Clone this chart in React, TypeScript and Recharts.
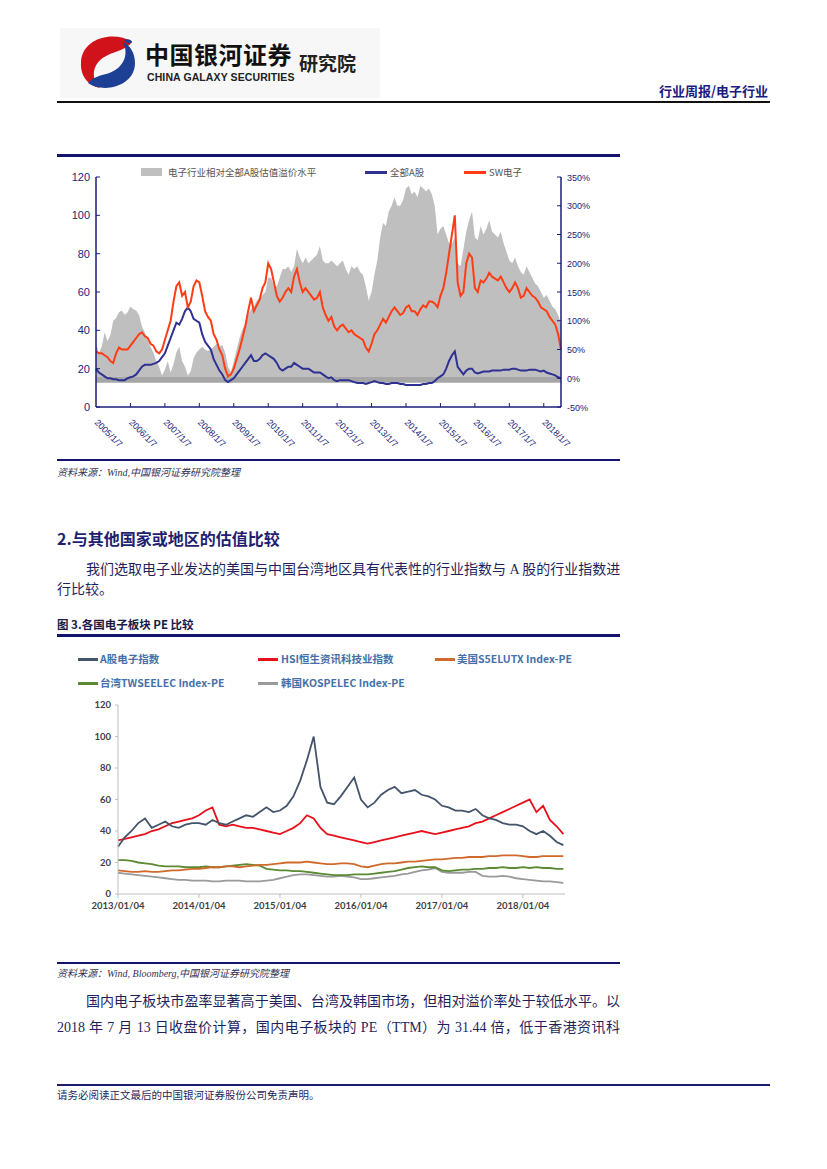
import React from "react";
import { ComposedChart, LineChart, Line, Area, XAxis, YAxis, ReferenceArea } from "recharts";

// 图2: 月度数据 2005/01 - 2018/07
const swDianzi = [
  29, 28, 28, 27, 26, 24, 23, 28, 31, 30, 30, 30,
  32, 34, 36, 38, 39, 37, 36, 33, 32, 29, 28, 30,
  35, 40, 45, 55, 63, 65, 58, 60, 52, 55, 63, 66,
  65, 58, 50, 47, 45, 38, 35, 30, 27, 20, 16, 17,
  20, 25, 30, 36, 42, 50, 57, 50, 53, 56, 62, 65,
  75, 72, 65, 58, 55, 57, 60, 62, 60, 68, 72, 65,
  60, 62, 60, 58, 56, 57, 60, 52, 48, 45, 47, 42,
  40, 42, 43, 41, 39, 40, 38, 37, 36, 35, 31, 29,
  33, 38, 40, 43, 46, 44, 47, 50, 52, 50, 48, 49,
  52, 53, 50, 50, 48, 51, 53, 52, 55, 55, 54, 52,
  58, 62, 70, 80, 90, 100, 65, 58, 60, 75, 80, 78,
  62, 60, 66, 65, 67, 70, 68, 67, 66, 68, 65, 62,
  60, 62, 65, 62, 57, 58, 62, 60, 58, 57, 55, 52,
  51, 50, 47, 45, 43, 38, 30,
];
const quanbuA = [
  20, 18, 17, 16, 15, 15, 14.5, 14.5, 14, 14, 14, 15,
  15.5, 16, 17, 19, 21, 22, 22, 22, 22.5, 23, 24, 26,
  28, 32, 36, 40, 44, 43, 46, 50, 52, 50, 46, 45,
  44, 38, 34, 32, 30, 25, 22, 19, 17, 14, 13, 14,
  15, 17, 19, 21, 23, 25, 27, 24, 24, 25, 27, 28,
  27, 26, 25, 23, 20, 19, 20, 21, 21, 23, 22, 21,
  20, 20, 20, 19, 18, 18, 18, 17, 16, 15, 15.5, 14,
  13.5, 14, 14, 14, 14, 13.5, 13, 12.5, 12.5, 12.5, 12, 12.5,
  13, 13.5, 13, 12.5, 12.5, 12, 12, 12.5, 12.5, 12.5, 12, 12,
  11.5, 11.5, 11.5, 11.5, 11.5, 11.5, 12, 12, 12.5, 12.5, 13.5, 15,
  16, 17, 20, 24, 27, 29, 21, 19, 17, 19, 20, 20,
  18, 17.5, 18, 18.5, 18.5, 18.5, 19, 19, 19, 19, 19.5, 19.5,
  19.5, 20, 20, 19.5, 19, 19, 19, 19.5, 19.5, 19.5, 19, 18.5,
  19, 18, 17.5, 17, 16.5, 15.5, 15,
];
// 溢价水平 (%)
const premium = [
  60, 45, 55, 80, 65, 75, 100, 105, 115, 118, 110, 115,
  125, 120, 118, 110, 90, 80, 65, 55, 45, 30, 20, 5,
  15, 30, 10, 25, 45, 55, 30, 20, 5, 12, 35, 45,
  50, 55, 50, 48, 50, 55, 60, 55, 58, 45, 20, 10,
  30, 50, 70, 85, 95, 110, 120, 125, 135, 140, 145, 150,
  175, 175, 160, 160, 175, 190, 190, 195, 185, 195, 225, 210,
  200, 210, 200, 205, 210, 215, 230, 205, 200, 200, 205, 200,
  195, 200, 205, 190, 180, 195, 190, 195, 185, 180, 160, 135,
  150, 180, 205, 245, 270, 265, 290, 300, 315, 300, 300, 310,
  330, 335, 320, 325, 315, 335, 330, 325, 330, 320, 300, 250,
  260, 265, 250, 235, 235, 245, 200, 195, 225, 255, 275, 290,
  245, 240, 265, 250, 260, 275, 255, 250, 245, 255, 235, 220,
  205, 200, 210, 195, 185, 180, 195, 185, 175, 165, 160, 150,
  140, 145, 135, 125, 120, 110, 95,
];
const c1Ticks = [2005, 2006, 2007, 2008, 2009, 2010, 2011, 2012, 2013, 2014, 2015, 2016, 2017, 2018];
const c1Labels = ["2005/1/7", "2006/1/7", "2007/1/7", "2008/1/7", "2009/1/7", "2010/1/7", "2011/1/7",
  "2012/1/7", "2013/1/7", "2014/1/7", "2015/1/7", "2016/1/7", "2017/1/7", "2018/1/7"];

// 图3: 月度数据 2013/01 - 2018/07
const aGuDianzi = [
  30, 36, 40, 45, 48, 42, 44, 46, 43, 42, 44, 45,
  45, 44, 47, 45, 44, 46, 48, 50, 49, 52, 55, 52,
  53, 56, 62, 72, 85, 100, 68, 58, 57, 62, 68, 74,
  60, 55, 58, 63, 66, 68, 64, 65, 66, 63, 62, 60,
  56, 55, 53, 53, 52, 54, 50, 48, 47, 45, 44, 44,
  43, 40, 38, 40, 37, 33, 31,
];
const hsiTech = [
  34, 35, 36, 37, 38, 40, 41, 43, 45, 46, 47, 48,
  50, 53, 55, 44, 43, 44, 43, 42, 42, 41, 40, 39,
  38, 40, 42, 45, 50, 48, 42, 38, 37, 36, 35, 34,
  33, 32, 33, 34, 35, 36, 37, 38, 39, 40, 39, 38,
  39, 40, 41, 42, 43, 45, 46, 48, 50, 52, 54, 56,
  58, 60, 52, 56, 47, 43, 38,
];
const usS5elutx = [
  15, 14.5, 14, 14, 14.5, 14, 14, 14.5, 15, 15, 15.5, 16,
  16, 16.5, 17, 17, 17.5, 17.5, 17, 17.5, 18, 18.5, 18.5, 19,
  19.5, 20, 20, 20, 20.5, 20, 19.5, 19, 19, 19.5, 19.5, 19,
  17.5, 17, 18, 19, 19.5, 19.5, 20, 20.5, 20.5, 21, 21.5, 22,
  22, 22.5, 23, 23, 23.5, 23.5, 23.5, 24, 24, 24.5, 24.5, 24.5,
  24, 23.5, 23.5, 24, 24, 24, 24,
];
const twElec = [
  21.5, 21.5, 21, 20, 19.5, 19, 18, 17.5, 17.5, 17.5, 17, 17,
  17, 17.5, 17, 17, 17.5, 18, 18.5, 19, 18.5, 18, 16, 15.5,
  15, 15, 14.5, 14.5, 14, 13.5, 13, 12.5, 12, 12, 12, 12.5,
  12.5, 12.5, 13, 13.5, 14, 14.5, 15.5, 16.5, 17, 17.5, 17, 17,
  15, 14.5, 15, 15.5, 15.5, 16, 16, 16.5, 16.5, 17, 16.5, 16.5,
  17, 16.5, 17, 16.5, 16.5, 16, 16,
];
const krElec = [
  13.5, 13, 12.5, 12, 11.5, 11, 10.5, 10, 9.5, 9, 9, 8.5,
  8.5, 8.5, 8, 8, 8.5, 8.5, 8.5, 8, 8, 8, 8.5, 9,
  10, 11, 12, 12.5, 12.5, 12, 11.5, 11, 11, 11.5, 11, 10.5,
  9.5, 9.5, 10, 10.5, 11, 11.5, 12.5, 13, 14, 15, 15.5, 16.5,
  14, 13.5, 13.5, 13.5, 14, 14, 11.5, 11, 11, 11.5, 11, 10,
  9.5, 9, 8.5, 8, 8, 7.5, 7,
];
const c2Ticks = [2013, 2014, 2015, 2016, 2017, 2018];
const c2Labels = ["2013/01/04", "2014/01/04", "2015/01/04", "2016/01/04", "2017/01/04", "2018/01/04"];

const c1Data = swDianzi.map((v, i) => ({
  t: 2005 + i / 12,
  sw: v,
  all: quanbuA[i],
  prem: premium[i],
}));
const c2Data = aGuDianzi.map((v, i) => ({
  t: 2013 + i / 12,
  a: v,
  hsi: hsiTech[i],
  us: usS5elutx[i],
  tw: twElec[i],
  kr: krElec[i],
}));

const navy = "#1c1c7a";
const textNavy = "#1f1f5c";
const cjk = "'Noto Sans CJK SC', sans-serif";
const bodyFont = "'Liberation Serif', 'Noto Sans CJK SC', serif";

function LeftTick(props: any) {
  const { x, y, payload } = props;
  return (
    <g>
      <line x1={x + 6} y1={y} x2={x + 10} y2={y} stroke={navy} />
      <text x={x} y={y} dy={4} textAnchor="end" fontSize={11} fill={navy} fontFamily="'Liberation Sans', Arial">
        {payload.value}
      </text>
    </g>
  );
}

function RightTick(props: any) {
  const { x, y, payload } = props;
  return (
    <g>
      <line x1={x - 6} y1={y} x2={x - 10} y2={y} stroke={navy} />
      <text x={x} y={y} dy={3.5} textAnchor="start" fontSize={9} fill={navy} fontFamily="'Liberation Sans', Arial">
        {payload.value}%
      </text>
    </g>
  );
}

function DateTick(props: any) {
  const { x, y, payload, index } = props;
  return (
    <g>
      {index > 0 && <line x1={x} y1={y - 2} x2={x} y2={y - 6} stroke={navy} />}
      <text
        transform={`translate(${x - 2},${y + 14}) rotate(45)`}
        textAnchor="start"
        fontSize={9}
        fill={navy}
        fontFamily="'Liberation Sans', Arial"
      >
        {c1Labels[c1Ticks.indexOf(payload.value)]}
      </text>
    </g>
  );
}

function Rule({ x, y, w, h, c }: { x: number; y: number; w: number; h: number; c: string }) {
  return <div style={{ position: "absolute", left: x, top: y, width: w, height: h, background: c }} />;
}

function Txt({ x, y, w, children, style }: any) {
  return (
    <div style={{ position: "absolute", left: x, top: y, width: w, whiteSpace: "nowrap", ...style }}>{children}</div>
  );
}

function Logo() {
  return (
    <div style={{ position: "absolute", left: 60, top: 28, width: 320, height: 70, background: "#f7f7f7" }}>
      <svg width={320} height={70} style={{ position: "absolute", left: 0, top: 0 }}>
        <path d="M 72 14 C 54 2, 22 10, 21 34 C 20 50, 30 58, 40 60 C 30 50, 32 34, 48 27 C 56 23, 66 22, 72 14 Z" fill="#d2121b" />
        <path d="M 28 55 C 44 66, 75 58, 75 35 C 75 25, 70 17, 63 14 C 70 28, 62 42, 46 46 C 38 48, 32 50, 28 55 Z" fill="#1d3f94" />
        <path d="M 64 12 C 68 10, 72 12, 72 14 C 70 16, 67 16, 64 12 Z" fill="#1d3f94" />
      </svg>
      <div style={{ position: "absolute", left: 85, top: 12, fontFamily: cjk, fontWeight: 700, fontSize: 24, lineHeight: "28px", color: "#111", letterSpacing: 0.5 }}>
        中国银河证券
      </div>
      <div style={{ position: "absolute", left: 87, top: 43, fontFamily: "'Liberation Sans', Arial", fontWeight: 700, fontSize: 10.5, color: "#222", letterSpacing: 0.1 }}>
        CHINA GALAXY SECURITIES
      </div>
      <div style={{ position: "absolute", left: 239, top: 23, fontFamily: cjk, fontWeight: 700, fontSize: 19, lineHeight: "24px", color: "#222" }}>
        研究院
      </div>
    </div>
  );
}

function LegendSwatch({ x, y, c, w = 20 }: { x: number; y: number; c: string; w?: number }) {
  return <div style={{ position: "absolute", left: x, top: y - 1.5, width: w, height: 3, background: c }} />;
}

export default function App() {
  const c2LegendStyle = {
    fontFamily: cjk,
    fontWeight: 700,
    fontSize: 10.5,
    lineHeight: "14px",
    color: "#4470a8",
  };
  const lblC1 = { fontFamily: cjk, fontSize: 9.5, lineHeight: "12px", color: "#555" };
  return (
    <div style={{ position: "relative", width: 827, height: 1169, background: "#fff", overflow: "hidden" }}>
      <style>{"body{margin:0;}"}</style>
      <Logo />
      <Txt x={600} y={83} w={168} style={{ textAlign: "right", fontFamily: cjk, fontWeight: 700, fontSize: 13, lineHeight: "16px", color: "#1a1a80" }}>
        行业周报/电子行业
      </Txt>
      <Rule x={57} y={101} w={713} h={2} c="#111" />

      {/* 图2 */}
      <Rule x={57} y={154} w={563} h={3} c="#14146e" />
      <div style={{ position: "absolute", left: 141, top: 168, width: 21, height: 8, background: "#bfbfbf" }} />
      <Txt x={168} y={166} style={lblC1}>电子行业相对全部A股估值溢价水平</Txt>
      <LegendSwatch x={365} y={172} c="#2e3192" w={22} />
      <Txt x={390} y={166} style={lblC1}>全部A股</Txt>
      <LegendSwatch x={464} y={172} c="#ff3c14" w={22} />
      <Txt x={489} y={166} style={lblC1}>SW电子</Txt>
      <div style={{ position: "absolute", left: 0, top: 150 }}>
        <ComposedChart width={627} height={310} data={c1Data} margin={{ top: 27, right: 16, bottom: 8, left: 56 }}>
          <XAxis
            dataKey="t"
            type="number"
            domain={[2005, 2018.5]}
            ticks={c1Ticks}
            interval={0}
            tick={<DateTick />}
            tickLine={false}
            tickSize={0}
            tickMargin={2}
            height={45}
            axisLine={{ stroke: navy, strokeWidth: 1.5 }}
          />
          <YAxis
            yAxisId="left"
            orientation="left"
            domain={[0, 120]}
            ticks={[0, 20, 40, 60, 80, 100, 120]}
            width={40}
            tick={<LeftTick />}
            tickLine={false}
            tickSize={0}
            tickMargin={6}
            axisLine={{ stroke: navy, strokeWidth: 1.5 }}
          />
          <YAxis
            yAxisId="right"
            orientation="right"
            domain={[-50, 350]}
            ticks={[-50, 0, 50, 100, 150, 200, 250, 300, 350]}
            width={50}
            tick={<RightTick />}
            tickLine={false}
            tickSize={0}
            tickMargin={6}
            axisLine={{ stroke: navy, strokeWidth: 1.5 }}
          />
          <Area
            yAxisId="right"
            dataKey="prem"
            type="linear"
            baseValue={0}
            fill="#bfbfbf"
            fillOpacity={1}
            stroke="none"
            isAnimationActive={false}
          />
          <ReferenceArea yAxisId="right" y1={-8} y2={2} fill="#a6a6a6" fillOpacity={1} stroke="none" />
          <Line yAxisId="left" dataKey="all" type="linear" stroke="#2e3192" strokeWidth={2} dot={false} isAnimationActive={false} />
          <Line yAxisId="left" dataKey="sw" type="linear" stroke="#ff3c14" strokeWidth={2} dot={false} isAnimationActive={false} />
        </ComposedChart>
      </div>
      <Rule x={57} y={459} w={563} h={2} c="#14146e" />
      <Txt x={57} y={466} style={{ fontFamily: bodyFont, fontStyle: "italic", fontSize: 10, lineHeight: "14px", color: "#333355" }}>
        资料来源：Wind,中国银河证券研究院整理
      </Txt>

      <Txt x={57} y={528} style={{ fontFamily: cjk, fontWeight: 700, fontSize: 16, lineHeight: "20px", color: "#1f1f70" }}>
        2.与其他国家或地区的估值比较
      </Txt>
      <div style={{ position: "absolute", left: 57, top: 560, width: 563, fontFamily: bodyFont, fontSize: 14, lineHeight: "20px", color: textNavy }}>
        <div style={{ textIndent: 29, textAlign: "justify", textAlignLast: "justify", whiteSpace: "nowrap" }}>
          我们选取电子业发达的美国与中国台湾地区具有代表性的行业指数与 A 股的行业指数进
        </div>
        <div>行比较。</div>
      </div>
      <Txt x={57} y={616} style={{ fontFamily: cjk, fontWeight: 700, fontSize: 11.5, lineHeight: "16px", color: "#1a1a4a" }}>
        图 3.各国电子板块 PE 比较
      </Txt>
      <Rule x={57} y={634} w={563} h={3} c="#14146e" />

      {/* 图3 */}
      <LegendSwatch x={78} y={659} c="#44546a" />
      <Txt x={100} y={652} style={c2LegendStyle}>A股电子指数</Txt>
      <LegendSwatch x={258} y={659} c="#e8101a" />
      <Txt x={281} y={652} style={c2LegendStyle}>HSI恒生资讯科技业指数</Txt>
      <LegendSwatch x={435} y={659} c="#d06a2a" />
      <Txt x={457} y={652} style={c2LegendStyle}>美国S5ELUTX Index-PE</Txt>
      <LegendSwatch x={78} y={683} c="#5a8a32" />
      <Txt x={100} y={676} style={c2LegendStyle}>台湾TWSEELEC Index-PE</Txt>
      <LegendSwatch x={258} y={683} c="#9a9a9a" />
      <Txt x={281} y={676} style={c2LegendStyle}>韩国KOSPELEC Index-PE</Txt>
      <div style={{ position: "absolute", left: 57, top: 640 }}>
        <LineChart width={563} height={320} data={c2Data} margin={{ top: 65, right: 55, bottom: 41, left: 31 }}>
          <XAxis
            dataKey="t"
            type="number"
            domain={[2013, 2018.52]}
            ticks={c2Ticks}
            interval={0}
            tickFormatter={(v: number) => c2Labels[c2Ticks.indexOf(v)]}
            tick={{ fontSize: 9.5, fontWeight: 700, fill: "#404040", fontFamily: "Lato, 'Liberation Sans'" }}
            axisLine={{ stroke: "#bfbfbf" }}
            tickLine={{ stroke: "#bfbfbf" }}
            tickSize={4}
            tickMargin={4}
            height={25}
          />
          <YAxis
            domain={[0, 120]}
            ticks={[0, 20, 40, 60, 80, 100, 120]}
            width={30}
            tick={{ fontSize: 9.5, fontWeight: 700, fill: "#404040", fontFamily: "Lato, 'Liberation Sans'" }}
            axisLine={{ stroke: "#bfbfbf" }}
            tickLine={{ stroke: "#bfbfbf" }}
            tickSize={3}
            tickMargin={4}
          />
          <Line dataKey="kr" type="linear" stroke="#9a9a9a" strokeWidth={1.8} dot={false} isAnimationActive={false} />
          <Line dataKey="tw" type="linear" stroke="#5a8a32" strokeWidth={1.8} dot={false} isAnimationActive={false} />
          <Line dataKey="us" type="linear" stroke="#d06a2a" strokeWidth={1.8} dot={false} isAnimationActive={false} />
          <Line dataKey="hsi" type="linear" stroke="#e8101a" strokeWidth={1.8} dot={false} isAnimationActive={false} />
          <Line dataKey="a" type="linear" stroke="#44546a" strokeWidth={1.8} dot={false} isAnimationActive={false} />
        </LineChart>
      </div>
      <Rule x={57} y={962} w={563} h={2} c="#14146e" />
      <Txt x={57} y={967} style={{ fontFamily: bodyFont, fontStyle: "italic", fontSize: 10, lineHeight: "14px", color: "#333355" }}>
        资料来源：Wind, Bloomberg,中国银河证券研究院整理
      </Txt>

      <div style={{ position: "absolute", left: 57, top: 992, width: 563, fontFamily: bodyFont, fontSize: 14, lineHeight: "26px", color: textNavy }}>
        <div style={{ textIndent: 29, textAlign: "justify", textAlignLast: "justify", whiteSpace: "nowrap", lineHeight: "20px" }}>
          国内电子板块市盈率显著高于美国、台湾及韩国市场，但相对溢价率处于较低水平。以
        </div>
        <div style={{ textAlign: "justify", textAlignLast: "justify", whiteSpace: "nowrap", marginTop: 6, lineHeight: "20px" }}>
          2018 年 7 月 13 日收盘价计算，国内电子板块的 PE（TTM）为 31.44 倍，低于香港资讯科
        </div>
      </div>

      <Rule x={57} y={1084} w={713} h={1.5} c="#1c1c6a" />
      <Txt x={57} y={1089} style={{ fontFamily: bodyFont, fontSize: 10.5, lineHeight: "14px", color: textNavy }}>
        请务必阅读正文最后的中国银河证券股份公司免责声明。
      </Txt>
    </div>
  );
}
